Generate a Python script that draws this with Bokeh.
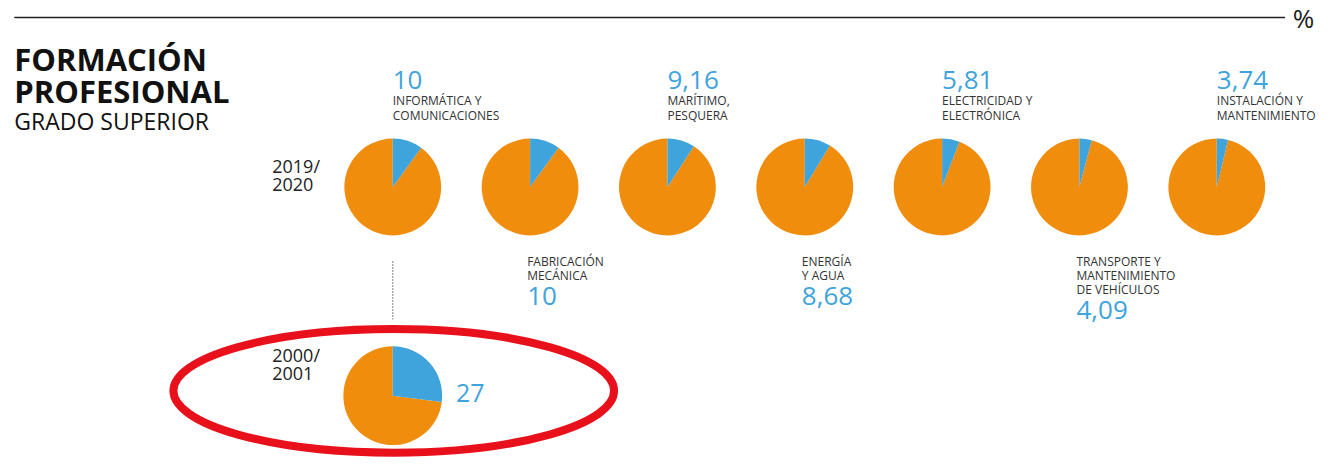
from bokeh.plotting import figure
from bokeh.models import Range1d, ColumnDataSource
from bokeh.core.properties import value
from bokeh.embed import file_html
from bokeh.resources import INLINE
import math

# ---------------- data ----------------
title_lines = ["FORMACIÓN", "PROFESIONAL"]
subtitle = "GRADO SUPERIOR"
unit_label = "%"
period_2019 = ["2019/", "2020"]
period_2000 = ["2000/", "2001"]
categories = [
    ["INFORMÁTICA Y", "COMUNICACIONES"],
    ["FABRICACIÓN", "MECÁNICA"],
    ["MARÍTIMO,", "PESQUERA"],
    ["ENERGÍA", "Y AGUA"],
    ["ELECTRICIDAD Y", "ELECTRÓNICA"],
    ["TRANSPORTE Y", "MANTENIMIENTO", "DE VEHÍCULOS"],
    ["INSTALACIÓN Y", "MANTENIMIENTO"],
]
values_2019 = [10, 10, 9.16, 8.68, 5.81, 4.09, 3.74]
value_labels_2019 = ["10", "10", "9,16", "8,68", "5,81", "4,09", "3,74"]
value_2000 = 27
value_label_2000 = "27"

# ---------------- style / layout ----------------
BLUE = "#3fa3dc"
ORANGE = "#f08d0c"
DARK = "#222222"
GRAY = "#333333"
RED = "#e8111b"
FONT = value("Open Sans")

W, H = 1323, 458          # figure size (fits the window with its 8px margin)
REF_W, REF_H = 1339, 474  # layout space


def Y(ry):  # top-down layout position -> data y
    return REF_H - ry


p = figure(width=W, height=H, output_backend="svg", toolbar_location=None,
           x_range=Range1d(0, REF_W), y_range=Range1d(0, REF_H),
           min_border=0, x_axis_location=None, y_axis_location=None)
p.outline_line_color = None
p.grid.visible = False
p.background_fill_color = "white"
p.border_fill_color = "white"


def txt(xs, ys, texts, size, color, style="normal"):
    p.text(x=xs, y=[Y(v) for v in ys], text=texts, text_font=FONT, text_font_size=size,
           text_font_style=style, text_color=color, text_baseline="middle",
           text_align="left")


# top rule and unit
p.segment(x0=[14], y0=[Y(17.5)], x1=[1300], y1=[Y(17.5)], line_color=DARK, line_width=1.5)
txt([1308], [18], [unit_label], "26px", DARK)

# title
txt([14, 14], [61, 94], title_lines, "31px", "#111111", "bold")
txt([14], [124.5], [subtitle], "23px", "#111111")

# period labels
txt([275, 275], [171.5, 190.5], period_2019, "18px", DARK)
txt([275, 275], [366.5, 386], period_2000, "18px", DARK)

# pies 2019/2020
X0, STEP, ROW_Y, R = 397, 139, 193, 49
xs = [X0 + i * STEP for i in range(len(values_2019))]
top = math.pi / 2
ends = [top - 2 * math.pi * v / 100 for v in values_2019]
src = ColumnDataSource(dict(x=xs, y=[Y(ROW_Y)] * len(xs), start=[top] * len(xs), end=ends))
p.wedge(x="x", y="y", radius=R, start_angle="end", end_angle="start", direction="clock",
        fill_color=ORANGE, line_color=None, source=src)
p.wedge(x="x", y="y", radius=R, start_angle="start", end_angle="end", direction="clock",
        fill_color=BLUE, line_color=None, source=src)

# labels: even-indexed above the pies, odd-indexed below
lx, ly, lt = [], [], []
nx, ny, nt = [], [], []
for i, (x, lines, lab) in enumerate(zip(xs, categories, value_labels_2019)):
    if i % 2 == 0:
        nx.append(x); ny.append(82.5); nt.append(lab)
        for j, line in enumerate(lines):
            lx.append(x); ly.append(103.5 + 15 * j); lt.append(line)
    else:
        last = 0
        for j, line in enumerate(lines):
            c = 270 + 14.5 * j
            lx.append(x - 3); ly.append(c); lt.append(line)
            last = c
        nx.append(x - 3); ny.append(last + 21); nt.append(lab)
txt(lx, ly, lt, "12px", GRAY)
txt(nx, ny, nt, "26px", BLUE)

# connector
p.segment(x0=[397], y0=[Y(270)], x1=[397], y1=[Y(330)], line_color=GRAY,
          line_width=1.2, line_dash="1 2")

# pie 2000/2001
BX, BY = 397, 409
e2000 = top - 2 * math.pi * value_2000 / 100
p.wedge(x=[BX], y=[Y(BY)], radius=R + 1, start_angle=[e2000], end_angle=[top],
        direction="clock", fill_color=ORANGE, line_color=None)
p.wedge(x=[BX], y=[Y(BY)], radius=R + 1, start_angle=[top], end_angle=[e2000],
        direction="clock", fill_color=BLUE, line_color=None)
txt([461], [406], [value_label_2000], "25px", BLUE)

# red highlight ellipse
p.ellipse(x=[398], y=[Y(404)], width=446, height=128, fill_color=None,
          line_color=RED, line_width=8)

open("out.html", "w").write(file_html(p, INLINE))
